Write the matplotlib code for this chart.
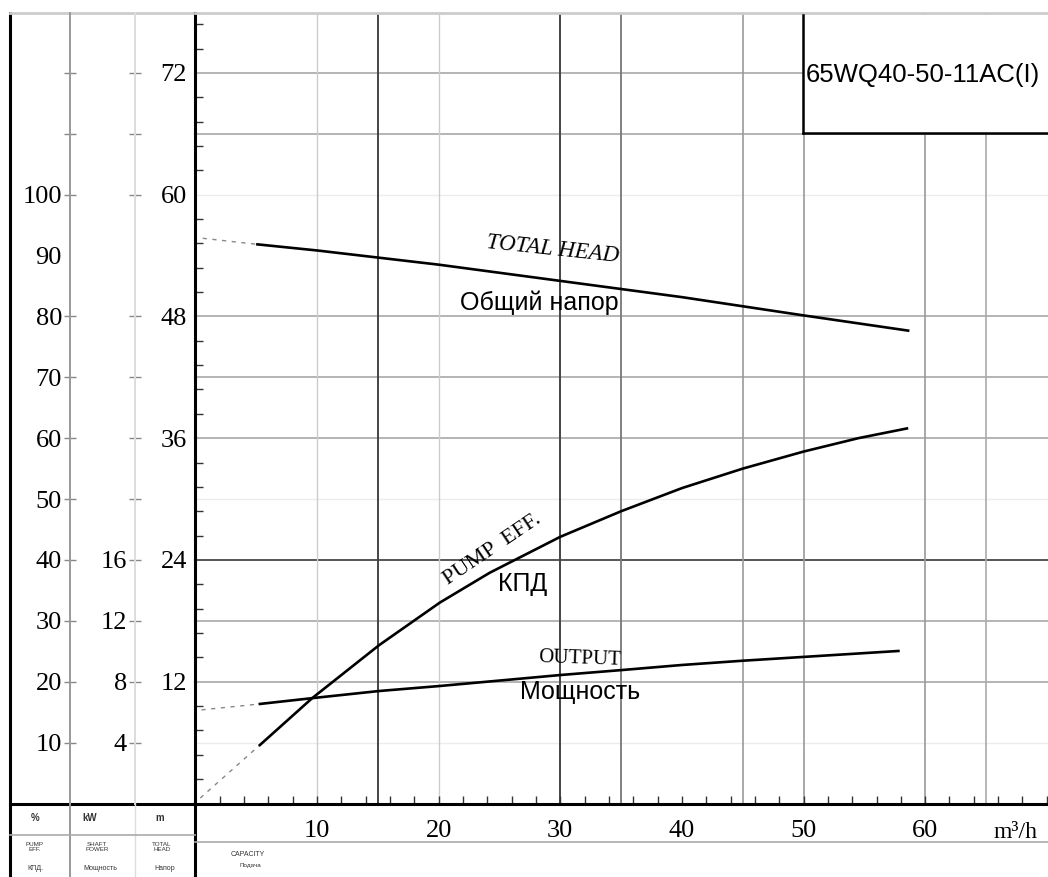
import matplotlib.pyplot as plt
from matplotlib.ticker import MultipleLocator

# (capacity in m3/h)
q_head = [0.6, 5.1, 10, 15, 20, 25, 30, 35, 40, 45, 50, 58.6]
head_m = [55.7, 55.1, 54.5, 53.8, 53.1, 52.3, 51.5, 50.7, 49.9, 49.0, 48.1, 46.6]

q_eff = [0.4, 5.3, 9.6, 15.1, 20.1, 24.2, 30, 35, 40, 45, 50, 54.5, 58.5]
eff_pct = [0.9, 9.6, 17.3, 26.0, 33.0, 37.9, 43.8, 48.0, 51.8, 55.0, 57.8, 60.0, 61.6]

q_pow = [0.5, 5.3, 9.7, 15.1, 20.1, 30, 35.1, 40, 45, 50, 57.8]
power_kw = [6.15, 6.54, 6.93, 7.39, 7.72, 8.44, 8.77, 9.1, 9.38, 9.63, 10.02]

head_ticks = [12, 24, 36, 48, 60, 72]
pct_ticks = [10, 20, 30, 40, 50, 60, 70, 80, 90, 100, 110, 120]
kw_ticks = [4, 8, 12, 16, 20, 24, 28, 32, 36, 40, 44, 48]
q_ticks = [10, 20, 30, 40, 50, 60]
model_name = "65WQ40-50-11AC(I)"

HEAD_MAX = 77.9
Q_MAX = 70.1
PCT_PER_M = 100 / 60      # 100 % sits on the 60 m line
PCT_PER_KW = 2.5          # 16 kW sits on the 40 % line

plt.rcParams['font.family'] = ['Liberation Serif', 'DejaVu Serif']
SANS = ['Liberation Sans', 'DejaVu Sans']

W, H = 1048, 877


def px(x0, y0, x1, y1):
    return [x0 / W, 1 - y1 / H, (x1 - x0) / W, (y1 - y0) / H]


fig = plt.figure(figsize=(W / 100, H / 100), dpi=100)

# frame / table lines drawn in pixel space
fr = fig.add_axes([0, 0, 1, 1])
fr.set_xlim(0, W)
fr.set_ylim(H, 0)
fr.axis('off')
fr.plot([10, 10], [13, H], color='black', lw=2.2)
fr.plot([10, 196], [13, 13], color='#cccccc', lw=2)
fr.plot([10, 196], [803.5, 803.5], color='black', lw=2.2)
fr.plot([195.4, 195.4], [803, H], color='black', lw=2.2)
fr.plot([70, 70], [803, H], color='#999999', lw=1.4)
fr.plot([135, 135], [803, H], color='#dddddd', lw=1)
fr.plot([10, 195], [835, 835], color='#aaaaaa', lw=1.2)
fr.plot([195, W], [842, 842], color='#aaaaaa', lw=1.2)

small = dict(ha='center', va='center', family=SANS, color='#333333')
fr.text(35, 818, '%', fontsize=7, fontweight='bold', **small)
fr.text(90, 818, 'kW', fontsize=7, fontweight='bold', **small)
fr.text(160, 818, 'm', fontsize=7, fontweight='bold', **small)
fr.text(35, 847, 'PUMP\nEFF.', fontsize=4.5, linespacing=1.0, **small)
fr.text(35, 868, 'КПД.', fontsize=5, **small)
fr.text(97, 847, 'SHAFT\nPOWER', fontsize=4.5, linespacing=1.0, **small)
fr.text(100, 868, 'Мощность', fontsize=5, **small)
fr.text(162, 847, 'TOTAL\nHEAD', fontsize=4.5, linespacing=1.0, **small)
fr.text(165, 868, 'Напор', fontsize=5, **small)
fr.text(248, 855, 'CAPACITY', fontsize=5, **small)
fr.text(250, 866, 'Подача', fontsize=4.5, **small)
fr.text(1015, 833, 'm³/h', fontsize=17, ha='center', va='center')

# main chart, head scale
ax = fig.add_axes(px(195.4, 13, W, 803.5))
ax.set_facecolor('none')
ax.set_xlim(0, Q_MAX)
ax.set_ylim(0, HEAD_MAX)

ax_eff = ax.twinx()
ax_eff.set_ylim(0, HEAD_MAX * PCT_PER_M)
ax_pow = ax.twinx()
ax_pow.set_ylim(0, HEAD_MAX * PCT_PER_M / PCT_PER_KW)

for s in ['left', 'bottom']:
    ax.spines[s].set_linewidth(2.2)
    ax.spines[s].set_color('black')
ax.spines['top'].set_color('#cccccc')
ax.spines['top'].set_linewidth(2)
ax.spines['right'].set_visible(False)

ax.set_yticks(head_ticks)
ax.yaxis.set_minor_locator(MultipleLocator(2.4))
ax.tick_params(axis='y', which='major', length=0, pad=6, labelsize=19)
ax.tick_params(axis='y', which='minor', direction='in', length=6,
               width=1, color='#333333')
ax.set_xticks(q_ticks)
ax.xaxis.set_minor_locator(MultipleLocator(2))
ax.tick_params(axis='x', which='both', direction='in', length=6, width=1,
               color='#333333', pad=12, labelsize=19)

# side scales (% and kW) as outward spines
for tw, ticks, top_label, offset, col in [
        (ax_eff, pct_ticks, 100, 125.4, '#999999'),
        (ax_pow, kw_ticks, 16, 60.4, '#dddddd')]:
    for s in tw.spines.values():
        s.set_visible(False)
    tw.spines['left'].set_visible(True)
    tw.spines['left'].set_position(('outward', offset * 0.72))
    tw.spines['left'].set_color(col)
    tw.spines['left'].set_linewidth(1.4)
    tw.yaxis.tick_left()
    tw.set_yticks(ticks, labels=[str(t) if t <= top_label else '' for t in ticks])
    tw.tick_params(axis='y', direction='inout', length=8.6, width=1,
                   color='#888888', pad=1.5, labelsize=19)
    # the 10/50/100 % marks are faint and the 90 % one is missing on the sheet
    for i, tk in enumerate(tw.yaxis.get_major_ticks()):
        if i in (0, 4, 9):
            tk.tick1line.set_color('#e4e4e4')
        elif i == 8:
            tk.tick1line.set_visible(False)

# grid
for lvl, c, lw in [(6, '#ececec', 1), (12, '#a8a8a8', 1.2), (18, '#a8a8a8', 1.2),
                   (24, '#555555', 1.4), (30, '#ececec', 1), (36, '#a8a8a8', 1.2),
                   (42, '#a8a8a8', 1.2), (48, '#a8a8a8', 1.2), (60, '#ececec', 1),
                   (66, '#a8a8a8', 1.2), (72, '#a8a8a8', 1.2)]:
    ax.axhline(lvl, color=c, lw=lw, zorder=0.5)
for q, c, lw in [(10, '#cccccc', 1), (15, '#444444', 1.4), (20, '#cccccc', 1),
                 (30, '#444444', 1.4), (35, '#777777', 1.3), (45, '#999999', 1.2),
                 (50, '#999999', 1.2), (60, '#999999', 1.2), (65, '#aaaaaa', 1.2)]:
    ax.axvline(q, color=c, lw=lw, zorder=0.5)

# curves: dotted lead-in, then solid
dot = dict(color='#888888', lw=1, ls=(0, (3, 4)))
solid = dict(color='black', lw=1.9)
ax.plot(q_head[:2], head_m[:2], **dot)
ax.plot(q_head[1:], head_m[1:], **solid)
ax_eff.plot(q_eff[:2], eff_pct[:2], **dot)
ax_eff.plot(q_eff[1:], eff_pct[1:], **solid)
ax_pow.plot(q_pow[:2], power_kw[:2], **dot)
ax_pow.plot(q_pow[1:], power_kw[1:], **solid)

# curve labels
ax.text(29.4, 54.6, 'TOTAL HEAD', fontsize=16.5, style='italic', rotation=-6,
        ha='center', va='center')
ax.text(28.3, 49.3, 'Общий напор', fontsize=18, family=SANS,
        ha='center', va='center')
ax.text(24.4, 25.0, 'PUMP  EFF.', fontsize=16, rotation=34,
        ha='center', va='center')
ax.text(26.9, 21.6, 'КПД', fontsize=18, family=SANS, ha='center', va='center')
ax.text(31.6, 14.2, 'OUTPUT', fontsize=15, rotation=-2,
        ha='center', va='center')
ax.text(31.6, 11.0, 'Мощность', fontsize=18, family=SANS,
        ha='center', va='center')

# model box
box = fig.add_axes(px(803, 14.5, W, 133))
box.set_facecolor('white')
box.set_xticks([])
box.set_yticks([])
box.spines['top'].set_visible(False)
box.spines['right'].set_visible(False)
box.spines['left'].set_linewidth(1.8)
box.spines['bottom'].set_linewidth(1.8)
box.text(0.012, 0.49, model_name, fontsize=18.5, family=SANS,
         ha='left', va='center', transform=box.transAxes)

fig.savefig('out.png', dpi=100)
